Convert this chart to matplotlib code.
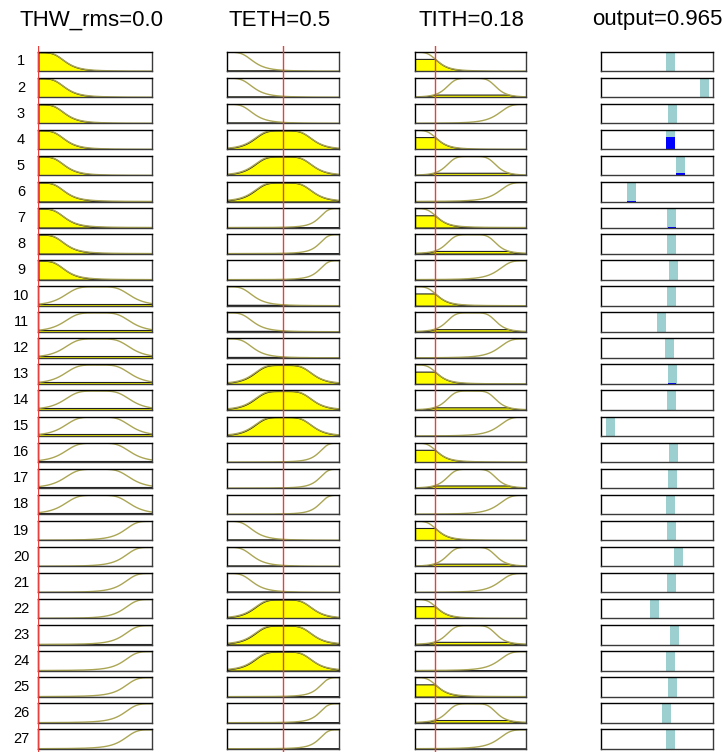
import numpy as np
import matplotlib
matplotlib.use("Agg")
import matplotlib.pyplot as plt

plt.rcParams['font.family'] = ['Liberation Sans', 'DejaVu Sans']

# Inputs and output shown in the titles
input_names = ['THW_rms', 'TETH', 'TITH']
input_values = [0.0, 0.5, 0.18]
input_labels = ['THW_rms=0.0', 'TETH=0.5', 'TITH=0.18']
output_label = 'output=0.965'

# gbell membership parameters (a, b, c) for low / mid / high of each input
thw_mfs = [(0.24, 2.0, 0.0), (0.30, 2.2, 0.52), (0.25, 2.0, 1.0)]
teth_mfs = [(0.24, 2.0, 0.0), (0.27, 2.2, 0.50), (0.18, 2.0, 1.0)]
tith_mfs = [(0.21, 2.0, 0.0), (0.23, 2.5, 0.51), (0.25, 2.0, 1.0)]

# Rule antecedents (1 = low, 2 = mid, 3 = high)
rule_thw = [1, 1, 1, 1, 1, 1, 1, 1, 1,
            2, 2, 2, 2, 2, 2, 2, 2, 2,
            3, 3, 3, 3, 3, 3, 3, 3, 3]
rule_teth = [1, 1, 1, 2, 2, 2, 3, 3, 3,
             1, 1, 1, 2, 2, 2, 3, 3, 3,
             1, 1, 1, 2, 2, 2, 3, 3, 3]
rule_tith = [1, 2, 3, 1, 2, 3, 1, 2, 3,
             1, 2, 3, 1, 2, 3, 1, 2, 3,
             1, 2, 3, 1, 2, 3, 1, 2, 3]

# Rule outputs (Sugeno constants, output range 0..1.5)
rule_out = [0.930, 1.394, 0.960, 0.936, 1.071, 0.407, 0.951, 0.951, 0.977,
            0.947, 0.810, 0.920, 0.956, 0.944, 0.128, 0.971, 0.965, 0.936,
            0.947, 1.046, 0.947, 0.714, 0.992, 0.927, 0.956, 0.884, 0.930]
out_range = (0.0, 1.5)


def gbell(x, a, b, c):
    return 1.0 / (1.0 + np.abs((x - c) / a) ** (2 * b))


W, H = 723, 752
fig = plt.figure(figsize=(W / 100, H / 100), dpi=100)

# column geometry in pixels: (left, width), and title centres
cols = [(38.3, 113.7), (227.0, 112.0), (415.0, 110.7), (601.0, 111.7)]
title_x = [91, 280, 471, 657]
row_top0 = 51.7
row_pitch = 26.06
row_h = 19.5

olive = '#aba654'
yellow = '#ffff00'
teal = '#9ccfd0'
blue = '#0000ff'
red = '#e8403f'

all_mfs = [thw_mfs, teth_mfs, tith_mfs]
rule_ants = [rule_thw, rule_teth, rule_tith]
x = np.linspace(0, 1, 400)


def style_box(ax):
    ax.set_xticks([])
    ax.set_yticks([])
    for side, s in ax.spines.items():
        s.set_linewidth(1.0)
        if side in ('right', 'bottom'):
            s.set_color('#3a3a3a')


for r in range(27):
    top = row_top0 + row_pitch * r
    bottom = (H - top - row_h) / H
    strength = 1.0
    for k in range(3):
        left, width = cols[k]
        ax = fig.add_axes([left / W, bottom, width / W, row_h / H])
        a, b, c = all_mfs[k][rule_ants[k][r] - 1]
        y = gbell(x, a, b, c)
        deg = gbell(input_values[k], a, b, c)
        strength *= deg
        ax.plot(x, y, color=olive, lw=1.0)
        ax.fill_between(x, 0, np.minimum(y, deg), facecolor=yellow,
                        edgecolor='#222222', lw=0.8)
        ax.set_xlim(0, 1)
        ax.set_ylim(0, 1.03)
        style_box(ax)
    # output column
    left, width = cols[3]
    ax = fig.add_axes([left / W, bottom, width / W, row_h / H])
    ax.bar(rule_out[r], 1.0, width=0.121, color=teal, align='center')
    ax.bar(rule_out[r], strength, width=0.115, color=blue, align='center')
    ax.set_xlim(*out_range)
    ax.set_ylim(0, 1.03)
    style_box(ax)

    fig.text(21 / W, (H - top - row_h / 2) / H, str(r + 1), ha='center',
             va='center', fontsize=10.5)

# red input lines across all rows
for k in range(3):
    left, width = cols[k]
    ov = fig.add_axes([left / W, 0, width / W, (H - 46) / H])
    ov.set_xlim(0, 1)
    ov.axvline(input_values[k], color=red, lw=1.0)
    ov.axis('off')

# column titles
for k, lab in enumerate(input_labels + [output_label]):
    fig.text(title_x[k] / W, (H - 20) / H, lab, ha='center',
             va='center', fontsize=16)

fig.savefig('out.png', dpi=100)
